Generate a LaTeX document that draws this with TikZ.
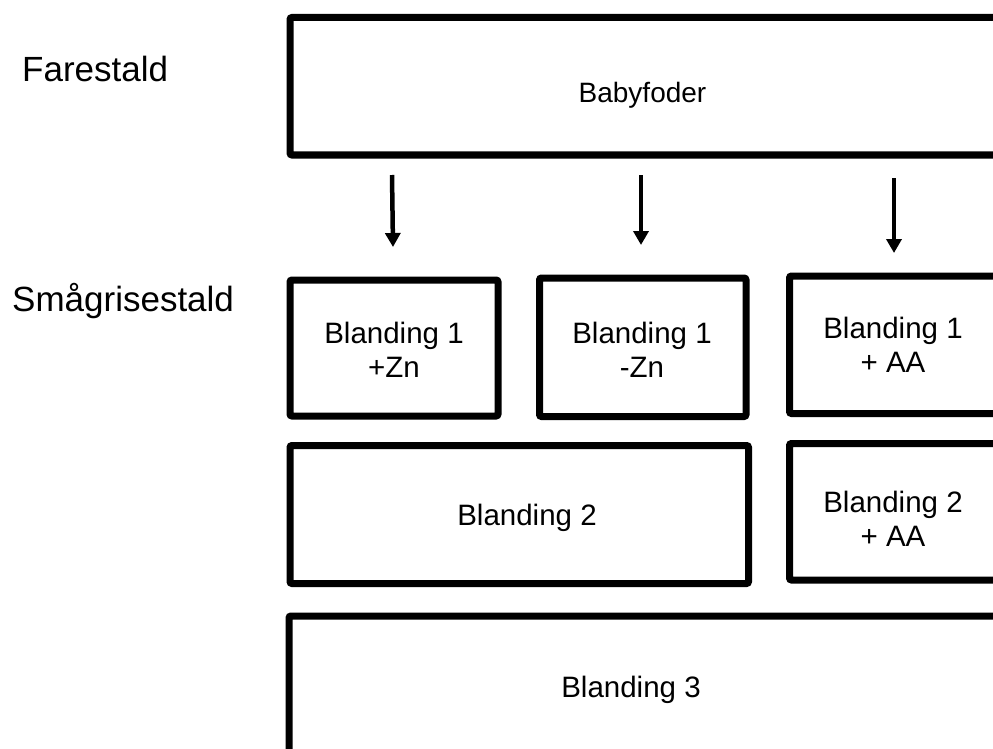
\documentclass[tikz,border=0pt]{standalone}
\usepackage{fontspec}
\setmainfont{Liberation Sans}
\usetikzlibrary{arrows.meta}
\begin{document}
\begin{tikzpicture}[x=1pt,y=-1pt,
  box/.style={draw=black, line width=7pt, rounded corners=2pt, inner sep=0pt, outer sep=0pt, anchor=north west},
  lbl/.style={font=\fontsize{35}{40}\selectfont, anchor=base west, inner sep=0pt},
  txt/.style={font=\fontsize{29.5}{34}\selectfont, align=center, inner sep=0pt},
  small/.style={font=\fontsize{28}{32}\selectfont, inner sep=0pt, anchor=base},
  arr/.style={line width=4.5pt, -{Triangle[width=15pt,length=14pt]}}]
\path[use as bounding box, clip] (0,0) rectangle (993,749);
\fill[white] (0,0) rectangle (993,749);
% boxes
\node[box, minimum width=740pt, minimum height=137.5pt] (baby) at (290,17.5) {};
\node[box, minimum width=208pt, minimum height=136pt] (b1zn) at (290,280) {};
\node[box, minimum width=206.5pt, minimum height=138.5pt] (b1mzn) at (539.5,278) {};
\node[box, minimum width=230pt, minimum height=137.5pt] (b1aa) at (789.5,276) {};
\node[box, minimum width=458.5pt, minimum height=138pt] (b2) at (290,445.5) {};
\node[box, minimum width=230pt, minimum height=136.5pt] (b2aa) at (789.5,443.5) {};
\node[box, minimum width=740pt, minimum height=200pt] (b3) at (289,616) {};
% texts
\node[lbl] (fare) at (22,82) {Farestald};
\node[lbl] (smaa) at (12,311) {Smågrisestald};
\node[small] (tbaby) at (642.5,103) {Babyfoder};
\node[txt] (tb1zn) at (394,350) {Blanding 1\\+Zn};
\node[txt] (tb1mzn) at (642,350) {Blanding 1\\-Zn};
\node[txt] (tb1aa) at (893,345) {Blanding 1\\+ AA};
\node[txt, anchor=base] (tb2) at (527,525) {Blanding 2};
\node[txt] (tb2aa) at (893,519) {Blanding 2\\+ AA};
\node[txt, anchor=base] (tb3) at (631,697) {Blanding 3};
% arrows
\coordinate (a1s) at (392,175);
\coordinate (a1e) at (393,247);
\coordinate (a2s) at (641,175);
\coordinate (a2e) at (641,245);
\coordinate (a3s) at (894,178);
\coordinate (a3e) at (894,253);
\draw[arr] (a1s) -- (a1e);
\draw[arr] (a2s) -- (a2e);
\draw[arr] (a3s) -- (a3e);
\end{tikzpicture}
\end{document}
